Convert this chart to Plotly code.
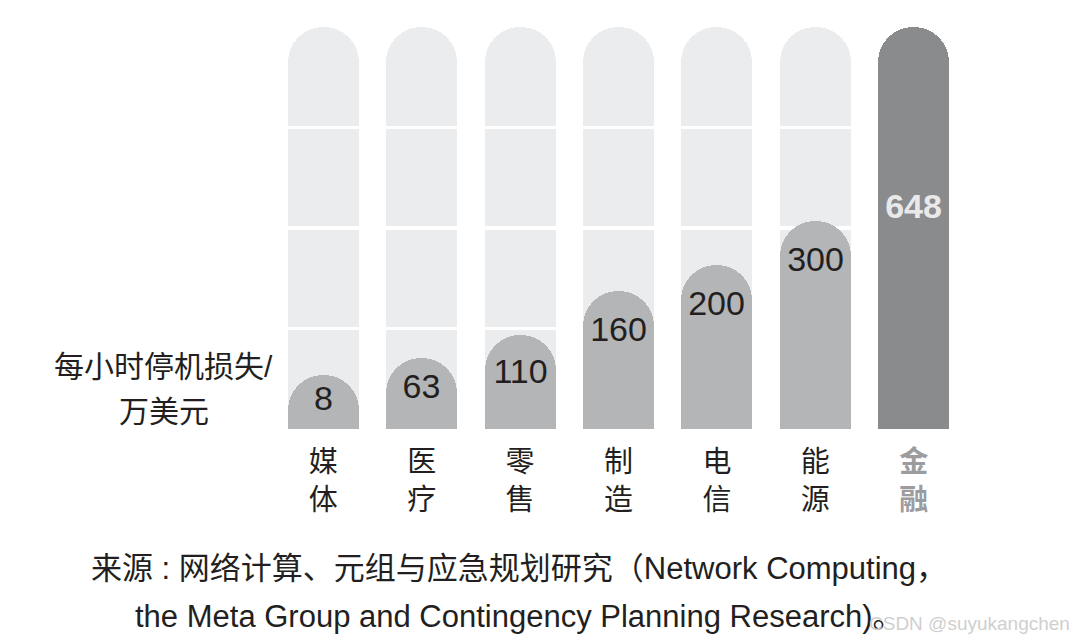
import plotly.graph_objects as go

categories = ["媒体", "医疗", "零售", "制造", "电信", "能源", "金融"]
values = [8, 63, 110, 160, 200, 300, 648]
# drawn bar lengths (chart is not to scale)
drawn_heights = [54, 70.6, 93.8, 137, 163.5, 207, 400]
grid_levels = [0, 100, 200, 300, 400]
y_title_lines = ["每小时停机损失/", "万美元"]
source_lines = ["来源 : 网络计算、元组与应急规划研究（Network Computing，",
                "the Meta Group and Contingency Planning Research)。"]

FONT = "Liberation Sans, Noto Sans CJK SC, sans-serif"
BG = "#ebecee"
BAR = "#b4b5b7"
DARK = "#8a8b8d"
n = len(categories)
xs = list(range(n))
W = 0.72

fig = go.Figure()

# background tracks: stacked segments separated by thin white gaps
gap = 3
bx = xs[:-1]
for i in range(len(grid_levels) - 1):
    seg = grid_levels[i + 1] - grid_levels[i]
    last = i == len(grid_levels) - 2
    first = i == 0
    h = seg - (0 if first else gap / 2) - (0 if last else gap / 2)
    fig.add_trace(go.Bar(
        x=bx, y=[h] * len(bx), width=W,
        marker=dict(color=BG, line=dict(width=0),
                    cornerradius="50%" if first else None),
        hoverinfo="skip", showlegend=False,
    ))
    if not last:
        fig.add_trace(go.Bar(
            x=bx, y=[gap] * len(bx), width=W,
            marker=dict(color="white", line=dict(width=0)),
            hoverinfo="skip", showlegend=False,
        ))

# value bars on overlaying axes
fig.add_trace(go.Bar(
    x=xs[:-1], y=drawn_heights[:-1], width=W, xaxis="x2", yaxis="y2",
    marker=dict(color=BAR, line=dict(width=0), cornerradius="50%"),
    text=[str(v) for v in values[:-1]], textposition="inside",
    insidetextanchor="end", textangle=0,
    textfont=dict(family=FONT, size=34, color="#231f20"),
    showlegend=False,
))
fig.add_trace(go.Bar(
    x=xs[-1:], y=drawn_heights[-1:], width=W, xaxis="x2", yaxis="y2",
    marker=dict(color=DARK, line=dict(width=0), cornerradius="50%"),
    text=[f"<b>{values[-1]}</b><br> "], textposition="inside",
    insidetextanchor="middle", textangle=0,
    textfont=dict(family=FONT, size=34, color="#e9e9ea"),
    showlegend=False,
))

ticktext = []
for i, c in enumerate(categories):
    t = "<br>".join(list(c))
    if i == n - 1:
        t = "<span style='color:#9c9c9e'><b>" + t + "</b></span>"
    ticktext.append(t)

txt = dict(family=FONT, color="#231f20")
annotations = []
for line, yy in zip(y_title_lines, [0.155, 0.043]):
    annotations.append(dict(text=line, xref="paper", yref="paper", x=-0.16, y=yy,
                            xanchor="center", yanchor="middle", showarrow=False,
                            font=dict(size=30, **txt)))
for line, yy in zip(source_lines, [-0.3475, -0.467]):
    annotations.append(dict(text=line, xref="paper", yref="paper", x=0.356, y=yy,
                            xanchor="center", yanchor="middle", showarrow=False,
                            font=dict(size=31, **txt)))
annotations.append(dict(text="CSDN @suyukangchen", xref="paper", yref="paper",
                        x=1.1585, y=-0.484, xanchor="right", yanchor="middle",
                        showarrow=False,
                        font=dict(family=FONT, size=19, color="#cfcfcf")))

fig.update_layout(
    width=1078, height=641,
    margin=dict(l=266, r=123, t=19, b=220, pad=0),
    paper_bgcolor="white", plot_bgcolor="white",
    barmode="stack", bargap=0,
    font=dict(family=FONT),
    xaxis=dict(range=[-0.5, n - 0.5], tickvals=xs, ticktext=ticktext,
               showgrid=False, zeroline=False, showline=False, ticks="",
               ticklabelstandoff=13,
               tickfont=dict(family=FONT, size=29, color="#231f20"),
               fixedrange=True),
    yaxis=dict(range=[0, 400], visible=False, fixedrange=True),
    xaxis2=dict(range=[-0.5, n - 0.5], overlaying="x", visible=False, fixedrange=True),
    yaxis2=dict(range=[0, 400], overlaying="y", visible=False, fixedrange=True),
    annotations=annotations,
)

fig.write_html("out.html")
